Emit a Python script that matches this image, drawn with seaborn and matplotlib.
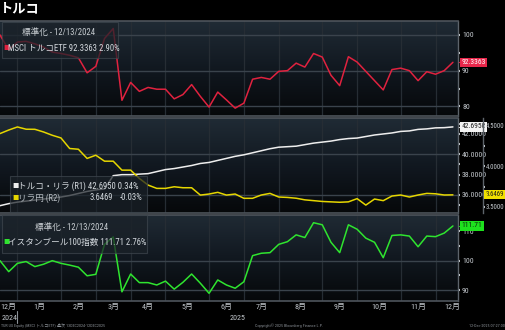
import os
import dataclasses
import numpy as np
import pandas as pd
import matplotlib
matplotlib.use("Agg")
import matplotlib.pyplot as plt
import matplotlib.transforms as mtransforms
from matplotlib.colors import LinearSegmentedColormap
from matplotlib.lines import Line2D
from matplotlib.patches import Rectangle
from matplotlib.ticker import FixedLocator, FuncFormatter
from matplotlib import font_manager
import seaborn as sns

# ---- weekly data (index 0 = 12/13/2024) ----
weeks = list(range(53))

msci_turkey_etf = [100.0, 95.8, 98.0, 98.2, 97.5, 96.6, 95.2, 94.8, 94.3, 93.6,
                   89.4, 91.2, 99.0, 101.8, 81.7, 86.7, 84.2, 85.3, 84.8, 84.8,
                   82.1, 83.3, 86.1, 82.8, 79.8, 84.0, 81.8, 79.5, 80.9, 87.6,
                   88.1, 87.6, 89.8, 90.0, 92.1, 91.0, 94.8, 93.8, 88.7, 85.8,
                   93.9, 92.4, 89.8, 87.2, 84.6, 90.3, 90.7, 90.0, 87.2, 89.7,
                   89.0, 90.0, 92.3363]

usd_try = [34.95, 35.15, 35.3, 35.4, 35.5, 35.6, 35.7, 35.8, 35.95, 36.15,
           36.35, 36.5, 36.6, 37.9, 38.0, 38.0, 38.05, 38.1, 38.3, 38.5,
           38.6, 38.75, 38.9, 39.1, 39.2, 39.4, 39.6, 39.8, 39.95, 40.15,
           40.35, 40.55, 40.7, 40.75, 40.8, 40.95, 41.1, 41.2, 41.3, 41.45,
           41.55, 41.6, 41.75, 41.9, 42.0, 42.1, 42.25, 42.3, 42.45, 42.5,
           42.6, 42.62, 42.695]

try_jpy = [4.406, 4.45, 4.488, 4.46, 4.459, 4.426, 4.385, 4.352, 4.221, 4.212,
           4.098, 4.138, 4.064, 4.064, 3.953, 3.953, 3.85, 3.768, 3.727, 3.727,
           3.747, 3.735, 3.735, 3.644, 3.657, 3.678, 3.644, 3.657, 3.604, 3.604,
           3.645, 3.665, 3.62, 3.615, 3.605, 3.585, 3.575, 3.565, 3.56, 3.555,
           3.56, 3.6, 3.52, 3.595, 3.575, 3.632, 3.645, 3.62, 3.645, 3.665,
           3.66, 3.645, 3.6469]

bist100 = [100.0, 96.3, 99.1, 99.7, 98.0, 98.8, 100.0, 99.1, 98.5, 97.8,
           94.9, 95.4, 105.5, 108.0, 89.5, 95.5, 92.6, 92.6, 91.8, 93.1,
           90.4, 92.7, 95.5, 92.4, 89.0, 93.5, 91.8, 90.7, 92.9, 101.7,
           102.5, 102.7, 105.5, 106.4, 108.7, 107.8, 112.8, 112.1, 106.2, 102.7,
           112.1, 110.6, 107.6, 106.2, 101.0, 108.5, 108.7, 108.3, 104.7, 108.3,
           108.1, 109.3, 111.71]

month_start_weeks = [2, 7, 11, 15, 19, 24, 28, 32, 37, 41, 46, 50]
month_label_weeks = [1, 4.5, 9, 13, 17, 21.5, 26, 30, 34.5, 39, 43.5, 48, 51.9]
month_labels = ["12月", "1月", "2月", "3月", "4月", "5月", "6月",
                "7月", "8月", "9月", "10月", "11月", "12月"]

etf_ticks = [100, 90, 80]
usdtry_ticks = [42, 40, 38, 36]
tryjpy_ticks = [4.5, 4.0, 3.5]
bist_ticks = [110, 100, 90]

df = pd.DataFrame({"week": weeks, "etf": msci_turkey_etf, "usdtry": usd_try,
                   "tryjpy": try_jpy, "bist": bist100})

# ---- fonts: a narrow Latin face first, CJK fallback after it ----
sns.set_theme(style="dark")


def find_narrow_face():
    prefs = ["liberationsansnarrow-regular", "robotocondensed-regular",
             "notosans-condensed.", "notosans-condensedregular",
             "dejavusanscondensed.", "opensans_condensed-regular",
             "opensans-condensedregular", "opensans_semicondensed-regular",
             "notosans-semicondensed.", "roboto_condensed-regular"]
    entries = font_manager.fontManager.ttflist
    for p in prefs:
        for e in entries:
            if os.path.basename(e.fname).lower().startswith(p):
                return e
    for e in entries:
        base = os.path.basename(e.fname).lower()
        if (e.stretch == "condensed" and e.style == "normal" and e.weight in (400, "normal")
                and "cjk" not in base and "extra" not in base and "ultra" not in base
                and "mono" not in base and "bold" not in base):
            return e
    return None


narrow = find_narrow_face()
if narrow is not None:
    font_manager.fontManager.ttflist.append(dataclasses.replace(narrow, name="ChartNarrow"))
    font_manager.fontManager._findfont_cached.cache_clear()
    FAM = ["ChartNarrow", "Noto Sans CJK JP", "DejaVu Sans"]
    SCALE = 1.0
else:
    FAM = ["Liberation Sans", "Noto Sans CJK JP", "DejaVu Sans"]
    SCALE = 0.82
plt.rcParams["font.family"] = FAM
plt.rcParams["axes.unicode_minus"] = False

RED = "#e0223f"
WHITE = "#eeeeee"
YELLOW = "#e6d600"
GREEN = "#2fe42f"
GRID = "#3a434c"
VGRID = "#262d34"
SEP = "#4d545b"
TICKTXT = "#c3c8cd"
LEGTXT = "#d6dbe0"
TICKSIZE = 5.6 * SCALE
R2SIZE = 4.9 * SCALE
TAGSIZE = 5.4 * SCALE

W, H = 506, 330
fig = plt.figure(figsize=(W / 100, H / 100), dpi=100, facecolor="black")


def fx(x):
    return x / W


def fy(y):
    return 1 - y / H


def add_panel(top, bottom, left=0, right=458):
    return fig.add_axes([fx(left), fy(bottom), (right - left) / W, (bottom - top) / H])


panel_cmap = LinearSegmentedColormap.from_list("panel", ["#06080a", "#111820", "#202b35"])
grad = np.linspace(0, 1, 256).reshape(-1, 1)


def style_panel(ax, ylim, grid_vals):
    ax.imshow(grad, extent=(0, 1, 0, 1), transform=ax.transAxes, origin="lower",
              aspect="auto", cmap=panel_cmap, zorder=0, interpolation="bilinear")
    for w in month_start_weeks:
        ax.axvline(w, color=VGRID, lw=0.9, zorder=1)
    for v in grid_vals:
        ax.axhline(v, color=GRID, lw=1.0, zorder=1)
    ax.set_xlim(0, 458 / 8.71)
    ax.set_ylim(*ylim)
    ax.set_xlabel("")
    ax.set_ylabel("")
    ax.spines["left"].set_visible(False)
    for s in ("top", "bottom"):
        ax.spines[s].set_color(SEP)
        ax.spines[s].set_linewidth(1.2)
    ax.spines["right"].set_color("#5d646b")
    ax.spines["right"].set_linewidth(1.0)
    ax.yaxis.tick_right()
    ax.tick_params(axis="y", which="both", direction="out", length=1.6, width=1.5,
                   color="#d0d4d8", labelsize=TICKSIZE, labelcolor=TICKTXT, pad=1.3)
    ax.tick_params(axis="x", which="both", length=0, labelbottom=False)
    ax.grid(False)


def value_tag(ax, xfrac, value, text, face, fg, dx=2.6, size=TAGSIZE):
    trans = mtransforms.blended_transform_factory(ax.transAxes, ax.transData)
    ax.annotate(text, xy=(xfrac, value), xycoords=trans, xytext=(dx, 0),
                textcoords="offset points", ha="left", va="center", fontsize=size,
                color=fg, bbox=dict(boxstyle="square,pad=0.16", fc=face, ec="none"),
                annotation_clip=False, zorder=10)
    ax.scatter([xfrac + 2.0 / 458], [value], transform=trans, marker="<", s=8,
               color=face, clip_on=False, zorder=11, linewidths=0)


# ---- panel 1: MSCI Turkey ETF (normalised) ----
ax1 = add_panel(21, 116)
sns.lineplot(data=df, x="week", y="etf", ax=ax1, color=RED, linewidth=1.1, zorder=3)
style_panel(ax1, (77.3, 103.9), etf_ticks)
ax1.yaxis.set_major_locator(FixedLocator(etf_ticks))
ax1.yaxis.set_minor_locator(FixedLocator([95, 85]))
ax1.yaxis.set_major_formatter(FuncFormatter(lambda v, p: f"{v:.0f}"))
value_tag(ax1, 1.0, msci_turkey_etf[-1], f"{msci_turkey_etf[-1]:.4f}", "#e8274b", "white")

# ---- panel 2: USD/TRY (R1) and TRY/JPY (R2) ----
ax2 = add_panel(118, 213)
sns.lineplot(data=df, x="week", y="usdtry", ax=ax2, color=WHITE, linewidth=1.1, zorder=3)
ax2b = ax2.twinx()
sns.lineplot(data=df, x="week", y="tryjpy", ax=ax2b, color=YELLOW, linewidth=1.1, zorder=3)
style_panel(ax2, (34.23, 43.57), [40, 36])
ax2.yaxis.set_major_locator(FixedLocator(usdtry_ticks))
ax2.yaxis.set_minor_locator(FixedLocator([43, 41, 39, 37, 35]))
ax2.yaxis.set_major_formatter(FuncFormatter(lambda v, p: f"{v:.4f}"))
ax2b.set_ylim(3.422, 4.599)
ax2b.set_xlim(ax2.get_xlim())
ax2b.set_ylabel("")
for s in ("left", "top", "bottom"):
    ax2b.spines[s].set_visible(False)
ax2b.spines["right"].set_position(("axes", 483 / 458))
ax2b.spines["right"].set_color("#5d646b")
ax2b.spines["right"].set_linewidth(1.0)
ax2b.yaxis.set_major_locator(FixedLocator(tryjpy_ticks))
ax2b.yaxis.set_minor_locator(FixedLocator([4.25, 3.75]))
ax2b.yaxis.set_major_formatter(FuncFormatter(lambda v, p: f"{v:.4f}"))
ax2b.tick_params(axis="y", which="both", direction="out", length=1.4, width=1.5,
                 color="#d0d4d8", labelsize=R2SIZE, labelcolor=TICKTXT, pad=0.6)
ax2b.grid(False)
value_tag(ax2, 1.0, usd_try[-1], f"{usd_try[-1]:.4f}", "#f4f4f4", "#1a1a1a")
value_tag(ax2b, 483 / 458, try_jpy[-1], f"{try_jpy[-1]:.4f}", "#f0e000", "#1a1a1a",
          dx=1.8, size=R2SIZE)

# ---- panel 3: BIST 100 (normalised) ----
ax3 = add_panel(215, 301)
sns.lineplot(data=df, x="week", y="bist", ax=ax3, color=GREEN, linewidth=1.1, zorder=3)
style_panel(ax3, (86.4, 115.4), [100, 90])
ax3.yaxis.set_major_locator(FixedLocator(bist_ticks))
ax3.yaxis.set_minor_locator(FixedLocator([105, 95]))
ax3.yaxis.set_major_formatter(FuncFormatter(lambda v, p: f"{v:.0f}"))
value_tag(ax3, 1.0, bist100[-1], f"{bist100[-1]:.2f}", "#1ee21e", "#0b2a0b")

# month axis under the bottom panel
ax3.xaxis.set_major_locator(FixedLocator(month_start_weeks))
ax3.xaxis.set_minor_locator(FixedLocator(month_label_weeks))
ax3.xaxis.set_major_formatter(FuncFormatter(lambda v, p: ""))
ax3.xaxis.set_minor_formatter(FuncFormatter(
    lambda v, p: month_labels[month_label_weeks.index(v)] if v in month_label_weeks else ""))
ax3.tick_params(axis="x", which="major", length=4, width=0.8, color="#5a6168",
                direction="out", labelbottom=False)
ax3.tick_params(axis="x", which="minor", length=0, labelbottom=True,
                labelsize=5.8, labelcolor=TICKTXT, pad=1.5)

# year row
fig.text(fx(2), fy(318), "2024", fontsize=5.8 * SCALE, color=TICKTXT, ha="left", va="center")
fig.text(fx(238), fy(318), "2025", fontsize=5.8 * SCALE, color=TICKTXT, ha="center", va="center")
fig.add_artist(Line2D([fx(17), fx(17)], [fy(311), fy(323)], color="#8a9096", lw=0.8))


# ---- legends ----
def legend_box(x0, y0, x1, y1):
    fig.add_artist(Rectangle((fx(x0), fy(y1)), (x1 - x0) / W, (y1 - y0) / H,
                             transform=fig.transFigure, fc="#1a2128", ec="#3e464e",
                             lw=0.8, alpha=0.72, zorder=5))


def ftext(x, y, s, color=LEGTXT, size=6.2, ha="left"):
    fig.text(fx(x), fy(y), s, fontsize=size, color=color, ha=ha, va="center", zorder=6)


legend_box(2, 22, 118, 58)
ftext(22, 32, "標準化 - 12/13/2024", color="#c8cdd2")
ftext(3, 48, "■", color=RED, size=4.5)
ftext(8.5, 48, "MSCI トルコETF 92.3363 2.90%")

legend_box(10, 176, 147, 212)
ftext(12, 186, "■", color=WHITE, size=4.5)
ftext(17.5, 186, "トルコ・リラ (R1) 42.6950 0.34%")
ftext(12, 198, "■", color=YELLOW, size=4.5)
ftext(17.5, 198, "リラ円 (R2)", color="#b8bec4")
ftext(113, 198, "3.6469", ha="right")
ftext(143, 198, "-0.03%", ha="right")

legend_box(2, 215, 147, 253)
ftext(35, 227, "標準化 - 12/13/2024", color="#c8cdd2")
ftext(3, 242, "■", color=GREEN, size=4.5)
ftext(8.5, 242, "イスタンブール100指数 111.71 2.76%")

# ---- title and footer ----
fig.text(fx(0), fy(9), "トルコ", fontsize=9.5, fontweight="bold", color="white",
         ha="left", va="center")
fig.text(fx(1), fy(326), "TUR US Equity (MSCI トルコETF) 週次 13DEC2024-12DEC2025",
         fontsize=3.0, color="#8a9096", ha="left", va="center")
fig.text(fx(289), fy(326), "Copyright© 2025 Bloomberg Finance L.P.",
         fontsize=3.0, color="#8a9096", ha="center", va="center")
fig.text(fx(505), fy(326), "12-Dec-2025 07:27:00",
         fontsize=3.0, color="#8a9096", ha="right", va="center")

fig.savefig("out.png", dpi=100, facecolor="black")
